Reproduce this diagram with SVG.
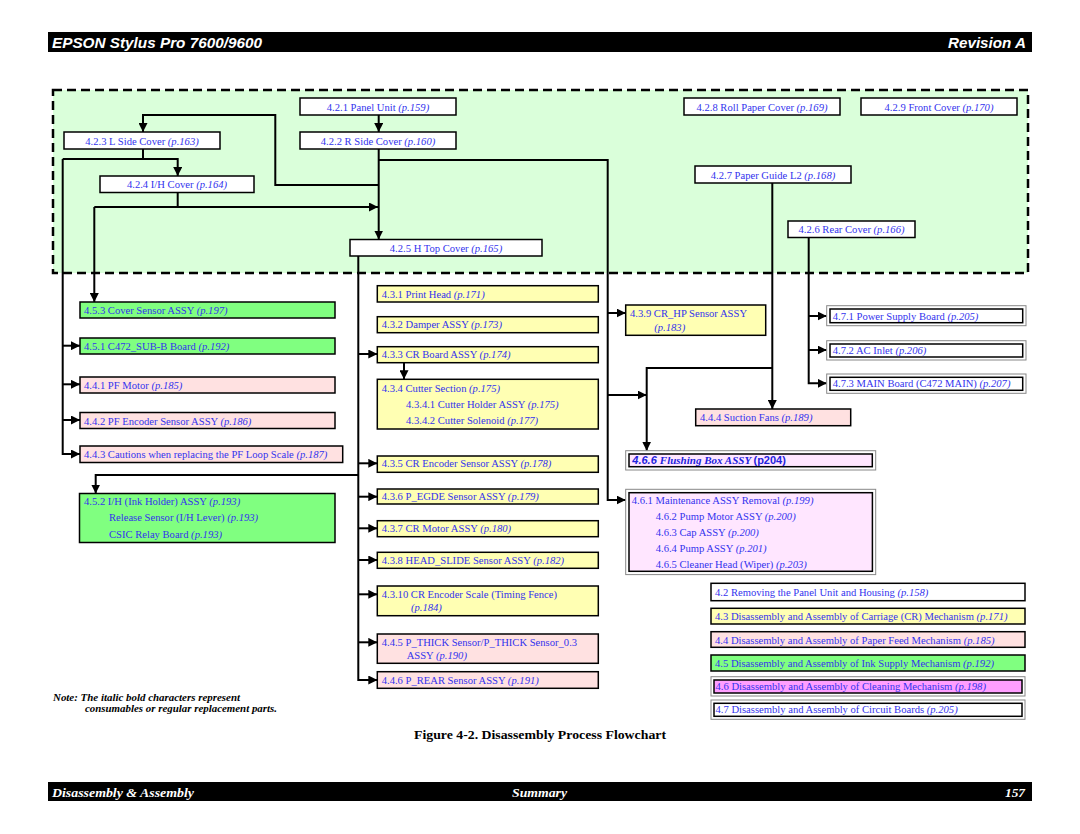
<svg xmlns="http://www.w3.org/2000/svg" width="1080" height="834" viewBox="0 0 1080 834">
<defs>
<marker id="ah" viewBox="0 0 10 10" refX="10" refY="5" markerWidth="9" markerHeight="9" markerUnits="userSpaceOnUse" orient="auto"><path d="M0,0 L10,5 L0,10 z" fill="#000"/></marker>
<style>
.bx{stroke:#000;stroke-width:1.5}
.w{fill:#fff}.y{fill:#FFFFB3}.p{fill:#FFE1E1}.g{fill:#80FF80}.l{fill:#FFE6FF}.m{fill:#FF9EFF}
.o{fill:#fff;stroke:#888;stroke-width:1}
.t{font-family:"Liberation Serif",serif;font-size:10.6px;fill:#3333EE}
.c{text-anchor:middle}
.i{font-style:italic}
.ln{fill:none;stroke:#000;stroke-width:2}
.a{marker-end:url(#ah)}
.hd{font-family:"Liberation Sans",sans-serif;font-size:15px;font-weight:bold;font-style:italic;fill:#fff}
.ft{font-family:"Liberation Serif",serif;font-size:13.5px;font-weight:bold;font-style:italic;fill:#fff}
</style>
</defs>
<rect width="1080" height="834" fill="#fff"/>
<!-- header / footer -->
<rect x="48" y="32" width="984" height="20" fill="#000"/>
<text class="hd" x="52" y="47.5" textLength="210" lengthAdjust="spacingAndGlyphs">EPSON Stylus Pro 7600/9600</text>
<text class="hd" x="948" y="47.5" textLength="78" lengthAdjust="spacingAndGlyphs">Revision A</text>
<rect x="48" y="782" width="984" height="19" fill="#000"/>
<text class="ft" x="52" y="796.5" textLength="142" lengthAdjust="spacingAndGlyphs">Disassembly &amp; Assembly</text>
<text class="ft" x="512" y="796.5" textLength="55" lengthAdjust="spacingAndGlyphs">Summary</text>
<text class="ft" x="1005" y="796.5" textLength="20" lengthAdjust="spacingAndGlyphs">157</text>
<text x="414" y="738.5" font-family="Liberation Serif,serif" font-size="13" font-weight="bold" fill="#000" textLength="252" lengthAdjust="spacingAndGlyphs">Figure 4-2.  Disassembly Process Flowchart</text>
<g font-family="Liberation Serif,serif" font-size="10.5" font-weight="bold" font-style="italic" fill="#000">
<text x="53" y="700.5" textLength="187" lengthAdjust="spacingAndGlyphs">Note: The italic bold characters represent</text>
<text x="85" y="712" textLength="192" lengthAdjust="spacingAndGlyphs">consumables or regular replacement parts.</text>
</g>
<!-- green region -->
<rect x="53" y="90" width="975" height="183" fill="#DAFFDA" stroke="#000" stroke-width="2.5" stroke-dasharray="9 5"/>
<!-- connectors -->
<g id="connectors">
<path class="ln a" d="M378.7,115 V132"/>
<path class="ln a" d="M378.7,149 V239.5"/>
<path class="ln a" d="M378.7,185 H275.3 V115 H143 V132"/>
<path class="ln" d="M143,149 V159"/>
<path class="ln a" d="M62.7,159 H177.7 V176"/>
<path class="ln a" d="M62.7,159 V454 H80"/>
<path class="ln a" d="M62.7,345.7 H80"/>
<path class="ln a" d="M62.7,384.3 H80"/>
<path class="ln a" d="M62.7,420 H80"/>
<path class="ln" d="M177.7,192.5 V207"/>
<path class="ln a" d="M94.3,207 H378"/>
<path class="ln a" d="M94.3,207 V302"/>
<path class="ln a" d="M378.7,160 H607.7 V500 H625.7"/>
<path class="ln a" d="M607.7,313 H625.7"/>
<path class="ln a" d="M607.7,395 H646.7"/>
<path class="ln a" d="M772.3,183 V409"/>
<path class="ln a" d="M772.3,368 H646.7 V450.7"/>
<path class="ln a" d="M808.7,237.5 V383.3 H826.7"/>
<path class="ln a" d="M808.7,316 H826.7"/>
<path class="ln a" d="M808.7,350 H826.7"/>
<path class="ln a" d="M358.3,256 V680 H377.3"/>
<path class="ln a" d="M358.3,354 H377.3"/>
<path class="ln a" d="M358.3,463.3 H377.3"/>
<path class="ln a" d="M358.3,496.7 H377.3"/>
<path class="ln a" d="M358.3,528.3 H377.3"/>
<path class="ln a" d="M358.3,560 H377.3"/>
<path class="ln a" d="M358.3,594.3 H377.3"/>
<path class="ln a" d="M358.3,642.3 H377.3"/>
<path class="ln a" d="M358.3,475 H95.7 V493.5"/>
<path class="ln a" d="M404,362.7 V379.3"/>
</g>
<!-- top nodes -->
<g id="n421"><rect class="bx w" x="300" y="98" width="156" height="17"/><text class="t c" x="378" y="110.5">4.2.1 Panel Unit <tspan class="i">(p.159)</tspan></text></g>
<g id="n422"><rect class="bx w" x="300" y="132" width="156" height="17"/><text class="t c" x="378" y="144.5">4.2.2 R Side Cover <tspan class="i">(p.160)</tspan></text></g>
<g id="n423"><rect class="bx w" x="64" y="132" width="156" height="17"/><text class="t c" x="142" y="144.5">4.2.3 L Side Cover <tspan class="i">(p.163)</tspan></text></g>
<g id="n424"><rect class="bx w" x="100" y="176" width="154" height="16.5"/><text class="t c" x="177" y="188">4.2.4 I/H Cover <tspan class="i">(p.164)</tspan></text></g>
<g id="n425"><rect class="bx w" x="350" y="239.5" width="192" height="16.5"/><text class="t c" x="446" y="251.5">4.2.5 H Top Cover <tspan class="i">(p.165)</tspan></text></g>
<g id="n428"><rect class="bx w" x="684" y="98" width="156" height="17"/><text class="t c" x="762" y="110.5">4.2.8 Roll Paper Cover <tspan class="i">(p.169)</tspan></text></g>
<g id="n429"><rect class="bx w" x="861" y="98" width="156" height="17"/><text class="t c" x="939" y="110.5">4.2.9 Front Cover <tspan class="i">(p.170)</tspan></text></g>
<g id="n427"><rect class="bx w" x="695" y="166" width="156" height="17"/><text class="t c" x="773" y="178.5">4.2.7 Paper Guide L2 <tspan class="i">(p.168)</tspan></text></g>
<g id="n426"><rect class="bx w" x="788" y="221" width="127" height="16.5"/><text class="t c" x="851.5" y="233">4.2.6 Rear Cover <tspan class="i">(p.166)</tspan></text></g>
<!-- left column -->
<g id="n453"><rect class="bx g" x="80" y="302" width="255" height="16"/><text class="t" x="84" y="314">4.5.3 Cover Sensor ASSY <tspan class="i">(p.197)</tspan></text></g>
<g id="n451"><rect class="bx g" x="80" y="338" width="255" height="16"/><text class="t" x="84" y="350">4.5.1 C472_SUB-B Board <tspan class="i">(p.192)</tspan></text></g>
<g id="n441"><rect class="bx p" x="80" y="377" width="255" height="16"/><text class="t" x="84" y="389">4.4.1 PF Motor <tspan class="i">(p.185)</tspan></text></g>
<g id="n442"><rect class="bx p" x="80" y="412.5" width="255" height="16"/><text class="t" x="84" y="424.5">4.4.2 PF Encoder Sensor ASSY <tspan class="i">(p.186)</tspan></text></g>
<g id="n443"><rect class="bx p" x="80" y="446" width="262.7" height="16.5"/><text class="t" x="84" y="458">4.4.3 Cautions when replacing the PF Loop Scale <tspan class="i">(p.187)</tspan></text></g>
<g id="n452"><rect class="bx g" x="79.5" y="493.5" width="255.5" height="49"/>
<text class="t" x="84" y="505">4.5.2 I/H (Ink Holder) ASSY <tspan class="i">(p.193)</tspan></text>
<text class="t" x="109" y="521">Release Sensor (I/H Lever) <tspan class="i">(p.193)</tspan></text>
<text class="t" x="109" y="537.5">CSIC Relay Board <tspan class="i">(p.193)</tspan></text></g>
<!-- middle column -->
<g id="n431"><rect class="bx y" x="377.3" y="285.7" width="221" height="16.3"/><text class="t" x="381.7" y="297.5">4.3.1 Print Head <tspan class="i">(p.171)</tspan></text></g>
<g id="n432"><rect class="bx y" x="377.3" y="316.7" width="221" height="16"/><text class="t" x="381.7" y="328.3">4.3.2 Damper ASSY <tspan class="i">(p.173)</tspan></text></g>
<g id="n433"><rect class="bx y" x="377.3" y="346.7" width="221" height="16"/><text class="t" x="381.7" y="358">4.3.3 CR Board ASSY <tspan class="i">(p.174)</tspan></text></g>
<g id="n434"><rect class="bx y" x="377.3" y="379.3" width="221" height="49.7"/>
<text class="t" x="381.7" y="392">4.3.4 Cutter Section <tspan class="i">(p.175)</tspan></text>
<text class="t" x="406" y="408">4.3.4.1 Cutter Holder ASSY <tspan class="i">(p.175)</tspan></text>
<text class="t" x="406" y="424">4.3.4.2 Cutter Solenoid <tspan class="i">(p.177)</tspan></text></g>
<g id="n435"><rect class="bx y" x="377.3" y="456" width="221" height="16.3"/><text class="t" x="381.7" y="467">4.3.5 CR Encoder Sensor ASSY <tspan class="i">(p.178)</tspan></text></g>
<g id="n436"><rect class="bx y" x="377.3" y="489" width="221" height="15"/><text class="t" x="381.7" y="500.3">4.3.6 P_EGDE Sensor ASSY <tspan class="i">(p.179)</tspan></text></g>
<g id="n437"><rect class="bx y" x="377.3" y="520.7" width="221" height="16"/><text class="t" x="381.7" y="532">4.3.7 CR Motor ASSY <tspan class="i">(p.180)</tspan></text></g>
<g id="n438"><rect class="bx y" x="377.3" y="552.3" width="221" height="16"/><text class="t" x="381.7" y="563.7">4.3.8 HEAD_SLIDE Sensor ASSY <tspan class="i">(p.182)</tspan></text></g>
<g id="n4310"><rect class="bx y" x="377.3" y="586" width="221" height="29.7"/>
<text class="t" x="381.7" y="598">4.3.10 CR Encoder Scale (Timing Fence)</text>
<text class="t i" x="411" y="611.3">(p.184)</text></g>
<g id="n445"><rect class="bx p" x="377.3" y="634" width="221" height="29.3"/>
<text class="t" x="381.7" y="646">4.4.5 P_THICK Sensor/P_THICK Sensor_0.3</text>
<text class="t" x="406.7" y="659.3">ASSY <tspan class="i">(p.190)</tspan></text></g>
<g id="n446"><rect class="bx p" x="377.3" y="671.7" width="221" height="16.6"/><text class="t" x="381.7" y="683.5">4.4.6 P_REAR Sensor ASSY <tspan class="i">(p.191)</tspan></text></g>
<!-- right column -->
<g id="n439"><rect class="bx y" x="625.7" y="305" width="140" height="30.3"/>
<text class="t" x="630" y="316.8">4.3.9 CR_HP Sensor ASSY</text>
<text class="t i" x="654.3" y="331">(p.183)</text></g>
<g id="n444"><rect class="bx p" x="695.7" y="409" width="155" height="16.7"/><text class="t" x="700" y="421">4.4.4 Suction Fans <tspan class="i">(p.189)</tspan></text></g>
<g id="n466"><rect class="o" x="625.7" y="450.7" width="250" height="19.3"/><rect class="bx l" x="629" y="454" width="243.3" height="12.7"/>
<text x="632.3" y="464.3" font-size="11" font-weight="bold" fill="#2222DD"><tspan font-family="Liberation Sans,sans-serif" font-style="italic">4.6.6 </tspan><tspan font-family="Liberation Serif,serif" font-style="italic">Flushing Box ASSY </tspan><tspan font-family="Liberation Sans,sans-serif">(p204)</tspan></text></g>
<g id="n461"><rect class="o" x="625.7" y="489.3" width="250" height="85.3"/><rect class="bx l" x="629" y="492.7" width="243.4" height="78.6"/>
<text class="t" x="631.7" y="503.5">4.6.1 Maintenance ASSY Removal <tspan class="i">(p.199)</tspan></text>
<text class="t" x="655.7" y="519.5">4.6.2 Pump Motor ASSY <tspan class="i">(p.200)</tspan></text>
<text class="t" x="655.7" y="535.7">4.6.3 Cap ASSY <tspan class="i">(p.200)</tspan></text>
<text class="t" x="655.7" y="552">4.6.4 Pump ASSY <tspan class="i">(p.201)</tspan></text>
<text class="t" x="655.7" y="568.2">4.6.5 Cleaner Head (Wiper) <tspan class="i">(p.203)</tspan></text></g>
<g id="n471"><rect class="o" x="826.7" y="305.7" width="199.3" height="20"/><rect class="bx w" x="830" y="309" width="192.7" height="13.7"/><text class="t" x="832.7" y="319.7">4.7.1 Power Supply Board <tspan class="i">(p.205)</tspan></text></g>
<g id="n472"><rect class="o" x="826.7" y="340.7" width="199.3" height="19.3"/><rect class="bx w" x="830" y="344" width="192.7" height="13"/><text class="t" x="832.7" y="354">4.7.2 AC Inlet <tspan class="i">(p.206)</tspan></text></g>
<g id="n473"><rect class="o" x="826.7" y="374" width="199.3" height="19.3"/><rect class="bx w" x="830" y="377.3" width="192.7" height="13"/><text class="t" x="832.7" y="387.3">4.7.3 MAIN Board (C472 MAIN) <tspan class="i">(p.207)</tspan></text></g>
<!-- legend -->
<g id="leg42"><rect class="bx w" x="711" y="583.3" width="314" height="17.4"/><text class="t" x="715" y="596">4.2 Removing the Panel Unit and Housing <tspan class="i">(p.158)</tspan></text></g>
<g id="leg43"><rect class="bx y" x="711" y="608.3" width="314" height="15.7"/><text class="t" x="715" y="619.7">4.3 Disassembly and Assembly of Carriage (CR) Mechanism <tspan class="i">(p.171)</tspan></text></g>
<g id="leg44"><rect class="bx p" x="711" y="631.7" width="314" height="15.6"/><text class="t" x="715" y="643.5">4.4 Disassembly and Assembly of Paper Feed Mechanism <tspan class="i">(p.185)</tspan></text></g>
<g id="leg45"><rect class="bx g" x="711" y="655" width="314" height="16"/><text class="t" x="715" y="666.5">4.5 Disassembly and Assembly of Ink Supply Mechanism <tspan class="i">(p.192)</tspan></text></g>
<g id="leg46"><rect class="o" x="711" y="676.7" width="314" height="19.3"/><rect class="bx m" x="714" y="680" width="308" height="13"/><text class="t" x="715.5" y="690.3">4.6 Disassembly and Assembly of Cleaning Mechanism <tspan class="i">(p.198)</tspan></text></g>
<g id="leg47"><rect class="o" x="711" y="700" width="314" height="19.3"/><rect class="bx w" x="714" y="703.3" width="308" height="13"/><text class="t" x="715.5" y="713.3">4.7 Disassembly and Assembly of Circuit Boards <tspan class="i">(p.205)</tspan></text></g>
</svg>
